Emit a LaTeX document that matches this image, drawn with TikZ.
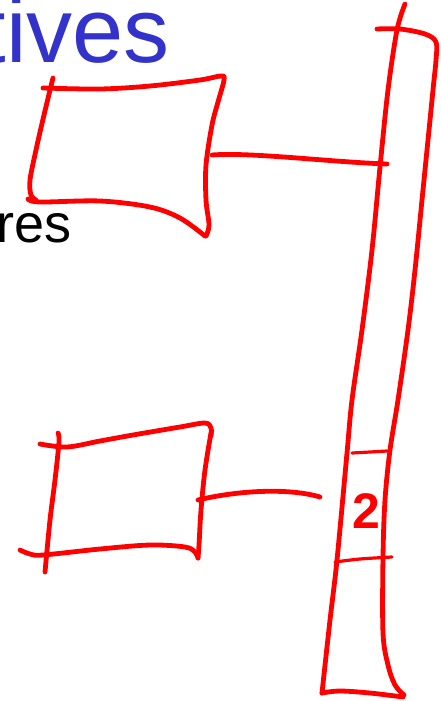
\documentclass[tikz,border=0pt]{standalone}
\usepackage{fontspec}
\setmainfont{Liberation Sans}
\definecolor{titleblue}{HTML}{3333CC}
\definecolor{inkred}{HTML}{FF0000}
\tikzset{
  ink/.style={draw=inkred, line width=4.8pt, line cap=round, line join=round},
  thinink/.style={draw=inkred, line width=3.2pt, line cap=round, line join=round},
  sk/.style={smooth, tension=0.55}
}
\begin{document}
\begin{tikzpicture}[x=1pt,y=-1pt]
\useasboundingbox (0,0) rectangle (441,701);
% texts
\node[anchor=base west, inner sep=0pt, text=titleblue, font=\fontsize{92}{92}\selectfont] (title) at (-19.6,63) {tives};
\node[anchor=base west, inner sep=0pt, text=black, font=\fontsize{54}{54}\selectfont] (res) at (-4,242) {res};
% ---- top box ----
\draw[ink] plot[sk] coordinates {(43,88) (100,89) (150,86) (200,80) (221,76) (224,80) (218,102) (212,125) (206,165) (206,200) (209,225) (206,236)};
\draw[ink] plot[sk] coordinates {(53,78) (44,115) (36,150) (30,180) (31,195) (36,200)};
\draw[ink] plot[sk] coordinates {(28,199) (40,202) (100,201) (150,207) (180,218) (205,236)};
% ---- bottom box ----
\draw[ink] plot[sk] coordinates {(40,444) (67,447) (100,441) (133,435) (180,427) (205,423) (211,428) (211,436)};
\draw[ink] plot[sk] coordinates {(211,433) (205,470) (201,510) (199,545) (198,558)};
\draw[ink] plot[sk] coordinates {(58,433) (59,442) (55,480) (50,520) (45,572)};
\draw[ink] plot[sk] coordinates {(20,550) (30,554) (43,555) (100,549) (150,545) (185,547) (195,552) (198,558)};
% ---- tall bar ----
\draw[ink] plot[sk] coordinates {(405,4) (397,30) (388,90) (380,167) (372,250) (362,330) (352,400) (347,453) (337,560) (330,620) (322,693)};
\draw[ink] plot[sk] coordinates {(322,693) (340,691) (370,693) (403,697)};
\draw[ink] plot[sk] coordinates {(377,29) (400,29) (425,34) (436,42) (436,60) (434,80) (430,120) (426,160) (422,200) (415,270) (408,330) (398,400) (390,450) (385,500) (383,557) (383,633) (388,665) (395,685) (404,695)};
\draw[thinink] plot[sk] coordinates {(352,453) (370,452) (387,451)};
\draw[thinink] plot[sk] coordinates {(335,562) (360,559) (392,557)};
\node[inner sep=0pt, text=inkred, font=\fontsize{50}{50}\selectfont\bfseries] (digit) at (366,511) {2};
% ---- connectors ----
\coordinate (a1) at (212,155);
\coordinate (a2) at (387,164);
\coordinate (b1) at (198,500);
\coordinate (b2) at (320,497);
\draw[ink] (a1) .. controls (250,152) and (330,162) .. (a2);
\draw[ink] (b1) .. controls (240,490) and (290,488) .. (b2);
\end{tikzpicture}
\end{document}
